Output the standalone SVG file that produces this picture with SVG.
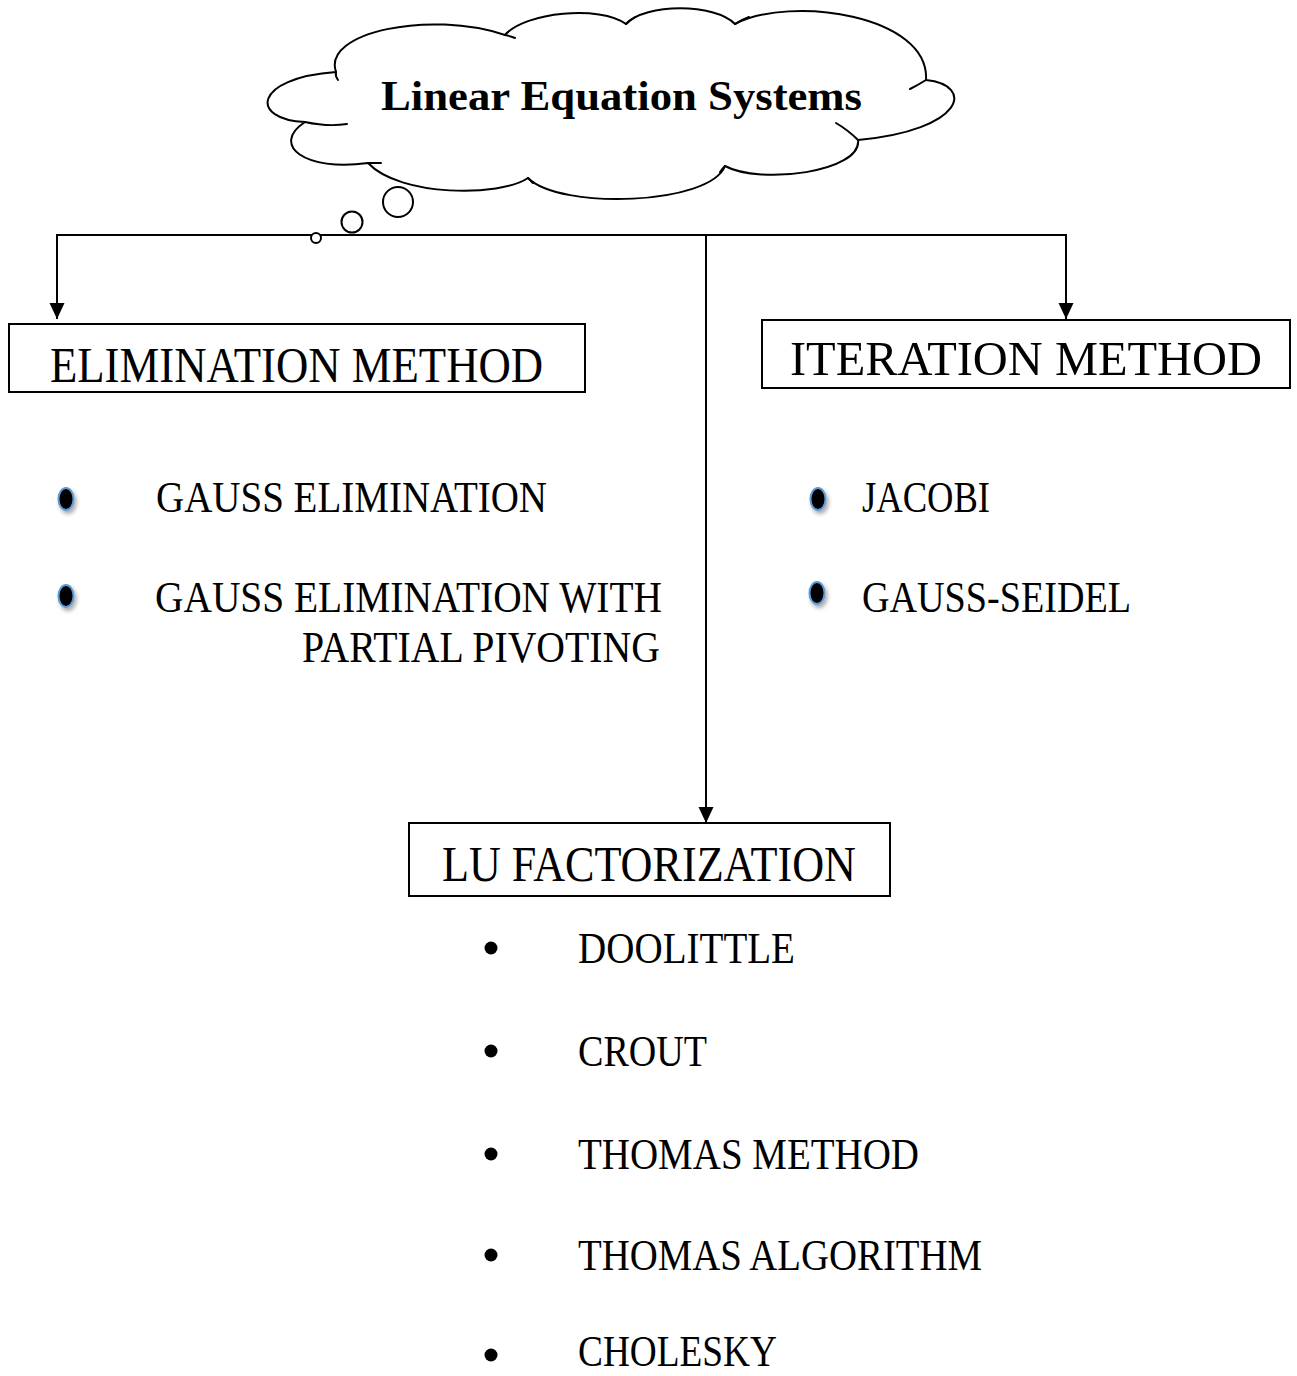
<svg xmlns="http://www.w3.org/2000/svg" width="1297" height="1376" viewBox="0 0 1297 1376">
<style>
  .cam { font-family: "Liberation Serif", "DejaVu Serif", serif; fill: #000; }
  .box { fill: #fff; stroke: #000; stroke-width: 2; }
  .conn { fill: none; stroke: #000; stroke-width: 2; }
  .cloud { fill: #fff; stroke: #000; stroke-width: 2; stroke-linejoin: round; }
  .inner { fill: none; stroke: #000; stroke-width: 2; stroke-linecap: round; }
  .dot { fill: #000; stroke: #5b9bd5; stroke-width: 2; filter: url(#shadow); }
  .bul { fill: #000; }
</style>
<defs>
  <marker id="arrow" markerUnits="userSpaceOnUse" markerWidth="16" markerHeight="16" refX="16" refY="7.5" orient="auto">
    <path d="M0,0 L16,7.5 L0,15 z" fill="#000"/>
  </marker>
  <filter id="shadow" x="-100%" y="-100%" width="300%" height="300%">
    <feDropShadow dx="2" dy="3" stdDeviation="2" flood-color="#000" flood-opacity="0.35"/>
  </filter>
</defs>
<rect width="1297" height="1376" fill="#fff"/>

<g id="connectors">
  <path class="conn" d="M706,235 H57 V319" marker-end="url(#arrow)"/>
  <path class="conn" d="M706,235 H1066 V319" marker-end="url(#arrow)"/>
  <path class="conn" d="M706,235 V823" marker-end="url(#arrow)"/>
</g>

<g id="cloud">
  <path class="cloud" d="M305,122 C250,120 252,78 336,72 C322,32 430,10 505,35 C525,12 600,5 626,24 C645,3 715,3 735,24 C790,-5 930,15 926,80 C975,85 965,130 858,140 C862,172 760,185 725,166 C710,205 560,210 528,178 C500,197 400,197 368,163 C305,172 270,145 305,122 Z"/>
  <path class="inner" d="M305,122 Q328,127 347,124"/>
  <path class="inner" d="M336,72 Q335,76 338,80"/>
  <path class="inner" d="M505,35 Q510,36 515,38"/>
  <path class="inner" d="M626,24 Q630,20 635,17"/>
  <path class="inner" d="M735,24 Q741,20 749,17"/>
  <path class="inner" d="M926,80 Q918,85 910,89"/>
  <path class="inner" d="M858,140 Q848,130 836,123"/>
  <path class="inner" d="M725,166 Q723,168 720,172"/>
  <path class="inner" d="M528,178 Q530,180 533,183"/>
  <path class="inner" d="M368,163 Q375,163 381,163"/>
  <circle class="cloud" cx="398" cy="202" r="15"/>
  <circle class="cloud" cx="352" cy="222" r="10.5"/>
  <circle class="cloud" cx="316" cy="238" r="5"/>
  <text class="cam" x="381" y="110" font-size="42" font-weight="bold" textLength="481" lengthAdjust="spacingAndGlyphs">Linear Equation Systems</text>
</g>

<g id="elimination">
  <rect class="box" x="9" y="324" width="576" height="68"/>
  <text class="cam" x="50" y="382" font-size="50" textLength="493" lengthAdjust="spacingAndGlyphs">ELIMINATION METHOD</text>
</g>

<g id="iteration">
  <rect class="box" x="762" y="320" width="528" height="68"/>
  <text class="cam" x="790" y="375" font-size="48" textLength="472" lengthAdjust="spacingAndGlyphs">ITERATION METHOD</text>
</g>

<g id="lu">
  <rect class="box" x="409" y="823" width="481" height="73"/>
  <text class="cam" x="442" y="881" font-size="50" textLength="414" lengthAdjust="spacingAndGlyphs">LU FACTORIZATION</text>
</g>

<g id="elimination-items">
  <ellipse class="dot" cx="66" cy="499" rx="7.5" ry="11"/>
  <ellipse class="dot" cx="66" cy="596" rx="7.5" ry="11"/>
  <text class="cam" x="156" y="512" font-size="44" textLength="391" lengthAdjust="spacingAndGlyphs">GAUSS ELIMINATION</text>
  <text class="cam" x="155" y="612" font-size="44" textLength="507" lengthAdjust="spacingAndGlyphs">GAUSS ELIMINATION WITH</text>
  <text class="cam" x="302" y="662" font-size="44" textLength="358" lengthAdjust="spacingAndGlyphs">PARTIAL PIVOTING</text>
</g>

<g id="iteration-items">
  <ellipse class="dot" cx="818" cy="499" rx="7.5" ry="11"/>
  <ellipse class="dot" cx="817" cy="593" rx="7.5" ry="11"/>
  <text class="cam" x="862" y="512" font-size="44" textLength="128" lengthAdjust="spacingAndGlyphs">JACOBI</text>
  <text class="cam" x="862" y="612" font-size="44" textLength="269" lengthAdjust="spacingAndGlyphs">GAUSS-SEIDEL</text>
</g>

<g id="lu-items">
  <circle class="bul" cx="491" cy="948" r="6.5"/>
  <text class="cam" x="578" y="963" font-size="44" textLength="217" lengthAdjust="spacingAndGlyphs">DOOLITTLE</text>
  <circle class="bul" cx="491" cy="1051" r="6.5"/>
  <text class="cam" x="578" y="1066" font-size="44" textLength="129" lengthAdjust="spacingAndGlyphs">CROUT</text>
  <circle class="bul" cx="491" cy="1154" r="6.5"/>
  <text class="cam" x="578" y="1169" font-size="44" textLength="341" lengthAdjust="spacingAndGlyphs">THOMAS METHOD</text>
  <circle class="bul" cx="491" cy="1255" r="6.5"/>
  <text class="cam" x="578" y="1270" font-size="44" textLength="404" lengthAdjust="spacingAndGlyphs">THOMAS ALGORITHM</text>
  <circle class="bul" cx="491" cy="1355" r="6.5"/>
  <text class="cam" x="578" y="1366" font-size="44" textLength="199" lengthAdjust="spacingAndGlyphs">CHOLESKY</text>
</g>
</svg>
